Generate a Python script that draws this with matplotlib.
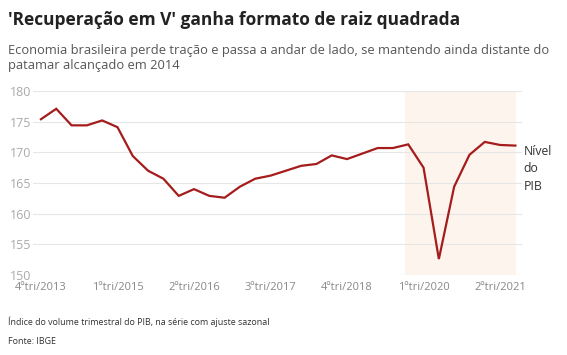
import matplotlib
matplotlib.use("Agg")
import matplotlib.pyplot as plt

quarters = ["4ºtri/2013", "1ºtri/2014", "2ºtri/2014", "3ºtri/2014", "4ºtri/2014",
            "1ºtri/2015", "2ºtri/2015", "3ºtri/2015", "4ºtri/2015",
            "1ºtri/2016", "2ºtri/2016", "3ºtri/2016", "4ºtri/2016",
            "1ºtri/2017", "2ºtri/2017", "3ºtri/2017", "4ºtri/2017",
            "1ºtri/2018", "2ºtri/2018", "3ºtri/2018", "4ºtri/2018",
            "1ºtri/2019", "2ºtri/2019", "3ºtri/2019", "4ºtri/2019",
            "1ºtri/2020", "2ºtri/2020", "3ºtri/2020", "4ºtri/2020",
            "1ºtri/2021", "2ºtri/2021", "3ºtri/2021"]
pib = [175.4, 177.1, 174.4, 174.4, 175.2, 174.1, 169.4, 167.0, 165.7,
       162.9, 164.0, 162.9, 162.6, 164.4, 165.7, 166.2, 167.0, 167.8,
       168.1, 169.5, 168.9, 169.8, 170.7, 170.7, 171.3, 167.5, 152.6,
       164.4, 169.6, 171.7, 171.2, 171.1]
tick_labels = ["4ºtri/2013", "1ºtri/2015", "2ºtri/2016", "3ºtri/2017",
               "4ºtri/2018", "1ºtri/2020", "2ºtri/2021"]
y_ticks = [150, 155, 160, 165, 170, 175, 180]
shade_start, shade_end = "4ºtri/2019", "3ºtri/2021"

plt.rcParams['font.family'] = ['Open Sans', 'DejaVu Sans']

fig = plt.figure(figsize=(5.67, 3.55), dpi=100)
ax = fig.add_axes([33/567, 1-275/355, (521.5-33)/567, (275-91)/355])

x = list(range(len(quarters)))
i0 = quarters.index(shade_start)
i1 = quarters.index(shade_end)
ax.axvspan(i0 - 0.2, i1 + 0.05, color="#fef4ee", zorder=0, lw=0)

for yt in y_ticks:
    ax.axhline(yt, color="#e6e6e6", lw=0.8, zorder=1)

ax.plot(x, pib, color="#a51c1c", lw=1.6, zorder=3, solid_joinstyle="miter")

ax.set_xlim(-0.52, 31.4)
ax.set_ylim(150, 180)
ax.set_yticks(y_ticks)
ax.set_yticklabels([str(v) for v in y_ticks], color="#aaaaaa", fontsize=9)
ax.set_xticks([quarters.index(t) for t in tick_labels])
ax.set_xticklabels(tick_labels, color="#888888", fontsize=8)
ax.tick_params(axis="y", length=0, pad=1.5)
ax.tick_params(axis="x", length=0, pad=5)
for s in ax.spines.values():
    s.set_visible(False)

ax.text(31.55, 171.2, "Nível\ndo\nPIB", fontsize=8.8, color="#333333",
        va="top", ha="left", linespacing=1.45)

fig.text(8/567, 1-20/355, "'Recuperação em V' ganha formato de raiz quadrada",
         fontsize=12.5, fontweight="bold", color="#222222", va="center", ha="left")
fig.text(8/567, 1-58/355,
         "Economia brasileira perde tração e passa a andar de lado, se mantendo ainda distante do\npatamar alcançado em 2014",
         fontsize=9.3, color="#555555", va="center", ha="left", linespacing=1.25)
fig.text(8/567, 1-322/355, "Índice do volume trimestral do PIB, na série com ajuste sazonal",
         fontsize=6.4, color="#333333", va="center", ha="left")
fig.text(8/567, 1-341/355, "Fonte: IBGE",
         fontsize=6.4, color="#333333", va="center", ha="left")

fig.savefig("out.png", dpi=100)
